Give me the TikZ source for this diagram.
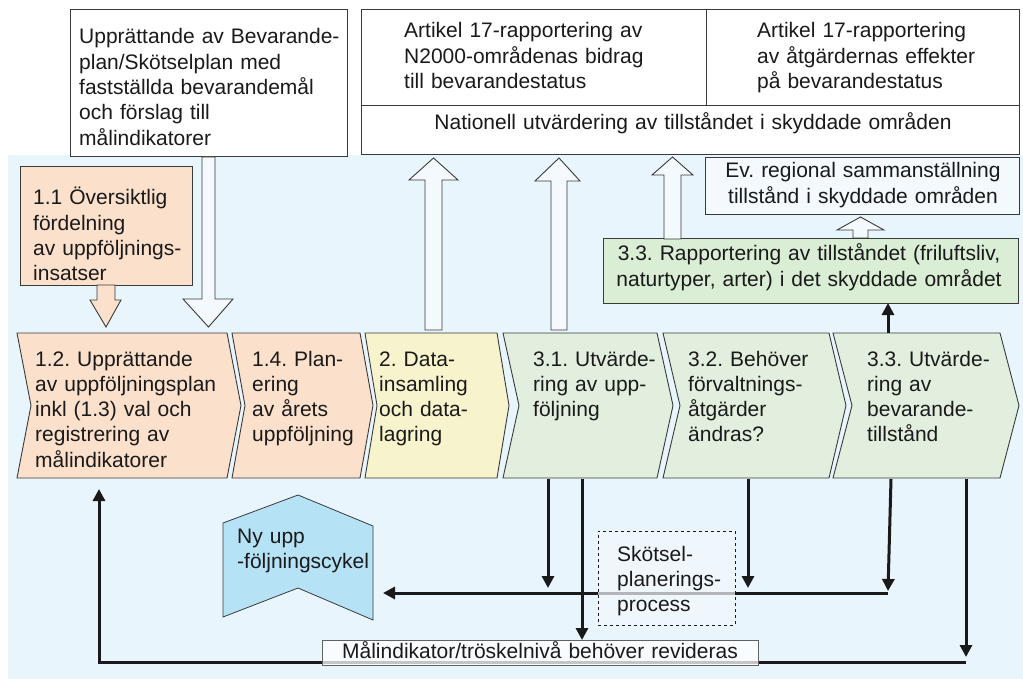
\documentclass[tikz,border=0pt]{standalone}
\usepackage{fontspec}
\setmainfont{Liberation Sans}
\usetikzlibrary{arrows.meta}
\definecolor{bgblue}{HTML}{E8F5FC}
\definecolor{peach}{HTML}{FBE0CB}
\definecolor{ylw}{HTML}{F7F3CC}
\definecolor{grn}{HTML}{E2EFDE}
\definecolor{rapgrn}{HTML}{DAEDD5}
\definecolor{nyblue}{HTML}{B6E2F6}
\definecolor{pale}{HTML}{F3F9FD}
\definecolor{ink}{HTML}{1A1A1A}
\definecolor{edge}{HTML}{3A3A3A}
\frenchspacing
\newcommand\blkarrow[8]{% xL xR hL hR yStart yBase yTip fill
  \filldraw[fill=#8, draw=edge, line width=0.9pt, line join=miter]
    (#1,#5) -- (#1,#6) -- (#3,#6) -- ({(#1+#2)/2},#7) -- (#4,#6) -- (#2,#6) -- (#2,#5) -- cycle;}
\newcommand\chevshape[4]{% L R d fill
  \filldraw[fill=#4, draw=edge, line width=0.9pt, line join=miter]
    (#1,333) -- (#2,333) -- ({#2+#3},405.5) -- (#2,478) -- (#1,478) -- ({#1+#3},405.5) -- cycle;}
\begin{document}
\begin{tikzpicture}[x=1pt,y=-1pt,
  txt/.style={font=\fontsize{21}{25.3}\selectfont, inner sep=0pt, anchor=base west, align=left, text=ink, text width=#1},
  txt/.default=320pt,
  ctxt/.style={font=\fontsize{21}{25.3}\selectfont, inner sep=0pt, anchor=base, align=center, text=ink, text width=#1},
  box/.style={draw=edge, line width=1pt, fill=white, inner sep=0pt, outer sep=0pt, anchor=north west},
  flow/.style={line width=3pt, draw=ink},
  tip/.style={-{Triangle[width=12pt,length=12pt]}}]
\useasboundingbox (0,0) rectangle (1023,679);
\fill[bgblue] (8,155) rectangle (1023,679);

% top boxes
\node[box, minimum width=277pt, minimum height=147pt] (up) at (70,10) {};
\node[box, minimum width=345pt, minimum height=96pt] (art1) at (361,10) {};
\node[box, minimum width=313pt, minimum height=96pt] (art2) at (706,10) {};
\node[box, minimum width=658pt, minimum height=49pt] (nat) at (361,106) {};
\node[box, fill=pale, minimum width=314pt, minimum height=57pt] (ev) at (705,158) {};
\node[box, fill=rapgrn, minimum width=415pt, minimum height=64pt] (rap) at (603,239) {};
\node[box, fill=peach, minimum width=172pt, minimum height=118pt] (b11) at (20,167) {};

% block arrows
\blkarrow{202}{215}{183}{233}{157}{299}{327}{pale}
\blkarrow{97}{115}{90}{121}{285}{300}{327}{peach}
\blkarrow{425}{442}{409}{458}{330}{180}{158}{pale}
\blkarrow{551}{567}{535}{580}{330}{181}{158}{pale}
\blkarrow{664}{681}{652}{693}{239}{175}{157}{pale}
\blkarrow{853}{868}{837}{884}{238}{230}{217}{pale}

% chevrons
\chevshape{17}{227}{14}{peach}
\chevshape{232}{360}{13}{peach}
\chevshape{365}{497}{12}{ylw}
\chevshape{503}{657}{16}{grn}
\chevshape{663}{829}{17}{grn}
\chevshape{833}{1000}{19}{grn}

% Ny uppfoljningscykel shape
\filldraw[fill=nyblue, draw=edge, line width=0.8pt] (223,523) -- (298,495) -- (373,526) -- (373,620) -- (298,588) -- (223,617) -- cycle;

% connector coordinates
\coordinate (c31a) at (548,479);
\coordinate (c31b) at (582,479);
\coordinate (c32a) at (748,479);
\coordinate (c33a) at (891,479);
\coordinate (c33b) at (966,479);
\coordinate (c33t) at (888,333);
\coordinate (midR) at (888,593);
\coordinate (nyR) at (383,593);
\coordinate (lowR) at (966,662);
\coordinate (lowL) at (99,662);

% black connectors
\draw[flow,tip] (c33t) -- (rap.south -| c33t);
\draw[flow,tip] (midR) -- (nyR);
\draw[flow,tip] (c31a) -- (548,588);
\draw[flow,tip] (c31b) -- (582,640);
\draw[flow,tip] (c32a) -- (748,588);
\draw[flow,tip] (c33a) -- (888,591);
\draw[flow,tip] (c33b) -- (966,657);
\draw[flow,tip] (lowR) -- (lowL) -- (99,489);

% semi-transparent boxes over lines
\node[box, draw=edge!80, fill=white, fill opacity=0.75, minimum width=436pt, minimum height=25pt] (mal) at (322,640) {};
\node[box, dashed, draw=ink, line width=1pt, fill=pale, fill opacity=0.7, minimum width=137pt, minimum height=94pt] (sk) at (598,531) {};

% texts
\node[txt] (uptxt) at (79,44) {Upprättande av Bevarande-\\plan/Skötselplan med\\fastställda bevarandemål\\och förslag till\\målindikatorer};
\node[txt] (art1txt) at (404,38) {Artikel 17-rapportering av\\N2000-områdenas bidrag\\till bevarandestatus};
\node[txt] (art2txt) at (757,38) {Artikel 17-rapportering\\av åtgärdernas effekter\\på bevarandestatus};
\node[ctxt=640pt] (nattxt) at (693,130) {Nationell utvärdering av tillståndet i skyddade områden};
\node[ctxt=310pt] (evtxt) at (863,178) {Ev. regional sammanställning\\tillstånd i skyddade områden};
\node[ctxt=410pt] (raptxt) at (809,261) {3.3. Rapportering av tillståndet (friluftsliv,\\naturtyper, arter) i det skyddade området};
\node[txt] (b11txt) at (33,205) {1.1 Översiktlig\\fördelning\\av uppföljnings-\\insatser};
\node[txt] (c12) at (35,366) {1.2. Upprättande\\av uppföljningsplan\\inkl (1.3) val och\\registrering av\\målindikatorer};
\node[txt] (c14) at (252,366) {1.4. Plan-\\ering\\av årets\\uppföljning};
\node[txt] (c2) at (379,366) {2. Data-\\insamling\\och data-\\lagring};
\node[txt] (c31) at (533,366) {3.1. Utvärde-\\ring av upp-\\följning};
\node[txt] (c32) at (688,366) {3.2. Behöver\\förvaltnings-\\åtgärder\\ändras?};
\node[txt] (c33) at (867,366) {3.3. Utvärde-\\ring av\\bevarande-\\tillstånd};
\node[txt] (nytxt) at (237,543) {Ny upp\\-följningscykel};
\node[txt] (sktxt) at (617,561) {Skötsel-\\planerings-\\process};
\node[ctxt=436pt] (maltxt) at (540,658) {Målindikator/tröskelnivå behöver revideras};
\end{tikzpicture}
\end{document}
